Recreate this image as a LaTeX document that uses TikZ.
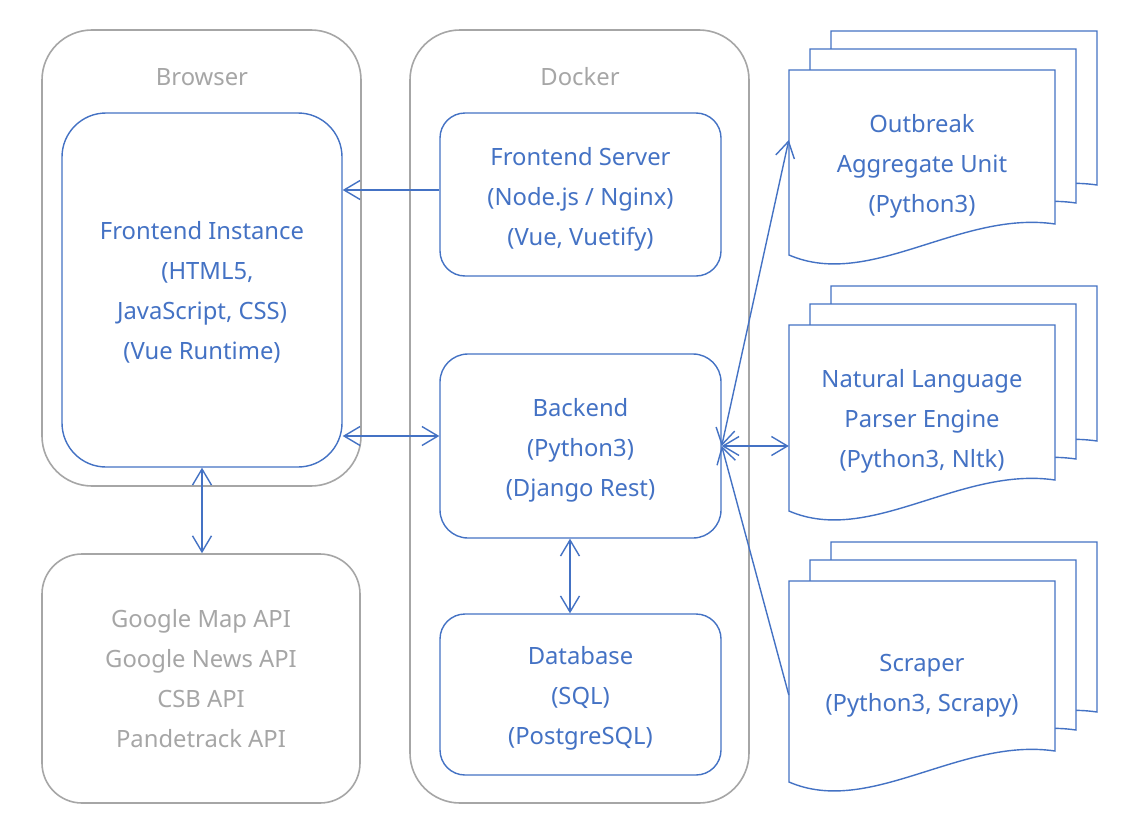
\documentclass[tikz,border=0pt]{standalone}
\usepackage{fontspec}
\setmainfont{Noto Sans}
\usetikzlibrary{arrows.meta}
\definecolor{bl}{HTML}{4472C4}
\definecolor{gr}{HTML}{A6A6A6}
\newcommand\mdoc[6]{%
  \foreach \dx/\dy in {42/-39,21/-21,0/0}{%
    \draw[docline,shift={(\dx,\dy)}] (#2,#3) -- ({#2+266},#3) -- ({#2+266},{#3+#4})
      .. controls ({#2+171},{#3+#4-14}) and ({#2+81},{#3+#4+66}) .. (#2,{#3+#4+31}) -- cycle;
  }%
  \node[draw=none, minimum width=266pt, minimum height=#4pt+31pt] (#1) at ({#2+133},{#3+(#4+31)/2}) {};
  \node[doctext] (#1t) at ([yshift=-#5pt]#1.center) {#6};
}
\begin{document}
\begin{tikzpicture}[x=1pt,y=-1pt,
  font=\fontsize{23.8}{40}\selectfont,
  >={Straight Barb[length=16pt,width=19pt]},
  outerbox/.style={draw=gr, line width=1.6pt, rounded corners=50pt, text=gr, align=center},
  innerbox/.style={draw=bl, line width=1.4pt},
  bluetext/.style={text=bl, align=center, inner sep=0pt},
  graylabel/.style={text=gr},
  docline/.style={draw=bl, line width=1.4pt, fill=white},
  doctext/.style={text=bl, align=center, draw=none, inner sep=0pt},
  conn/.style={draw=bl, line width=1.4pt}]
\fill[white] (0,0) rectangle (1129,835);
\useasboundingbox (0,0) rectangle (1129,835);

% outer containers
\node[outerbox, minimum width=319pt, minimum height=456pt] (br) at (201.5,258) {};
\node[graylabel] (brl) at (202,77) {Browser};
\node[outerbox, minimum width=339pt, minimum height=773pt] (dk) at (579.5,416.5) {};
\node[graylabel] (dkl) at (580,77) {Docker};
\node[outerbox, rounded corners=40pt, minimum width=318pt, minimum height=249pt] (api) at (201,678.5)
  {Google Map API\\Google News API\\CSB API\\Pandetrack API};

% inner boxes
\node[innerbox, rounded corners=44pt, minimum width=280pt, minimum height=354pt] (fi) at (202,290) {};
\node[bluetext] (fit) at ([yshift=-2pt]fi.center)
  {Frontend Instance\\\hspace*{11pt}(HTML5,\\JavaScript, CSS)\\(Vue Runtime)};
\node[innerbox, rounded corners=25pt, minimum width=281pt, minimum height=163pt] (fs) at (580.5,194.5) {};
\node[bluetext] (fst) at ([yshift=-5pt]fs.center)
  {Frontend Server\\(Node.js / Nginx)\\(Vue, Vuetify)};
\node[innerbox, rounded corners=28pt, minimum width=281pt, minimum height=184pt] (be) at (580.5,446) {};
\node[bluetext] (bet) at ([yshift=-4pt]be.center)
  {Backend\\(Python3)\\(Django Rest)};
\node[innerbox, rounded corners=25pt, minimum width=281pt, minimum height=161pt] (db) at (580.5,694.5) {};
\node[bluetext] (dbt) at ([yshift=-4pt]db.center)
  {Database\\(SQL)\\(PostgreSQL)};

% multi-documents
\mdoc{d1}{789}{70}{154}{4}{Outbreak\\Aggregate Unit\\(Python3)}
\mdoc{d2}{789}{325}{155}{3}{Natural Language\\Parser Engine\\(Python3, Nltk)}
\mdoc{d3}{789}{581}{170}{4}{Scraper\\(Python3, Scrapy)}

% connectors
\draw[conn,->] (fs.west |- 0,190) -- (fi.east |- 0,190);
\draw[conn,<->] (fi.east |- 0,436) -- (be.west |- 0,436);
\draw[conn,<->] (fi.south) -- (fi.south |- api.north);
\draw[conn,<->] (be.south -| 570,0) -- (db.north -| 570,0);
\draw[conn,<->] (be.east) -- ([yshift=22.5pt]d1.west);
\draw[conn,<->] (be.east) -- ([yshift=-28pt]d2.west);
\draw[conn,<-] (be.east) -- ([yshift=-13.5pt]d3.west);
\end{tikzpicture}
\end{document}
